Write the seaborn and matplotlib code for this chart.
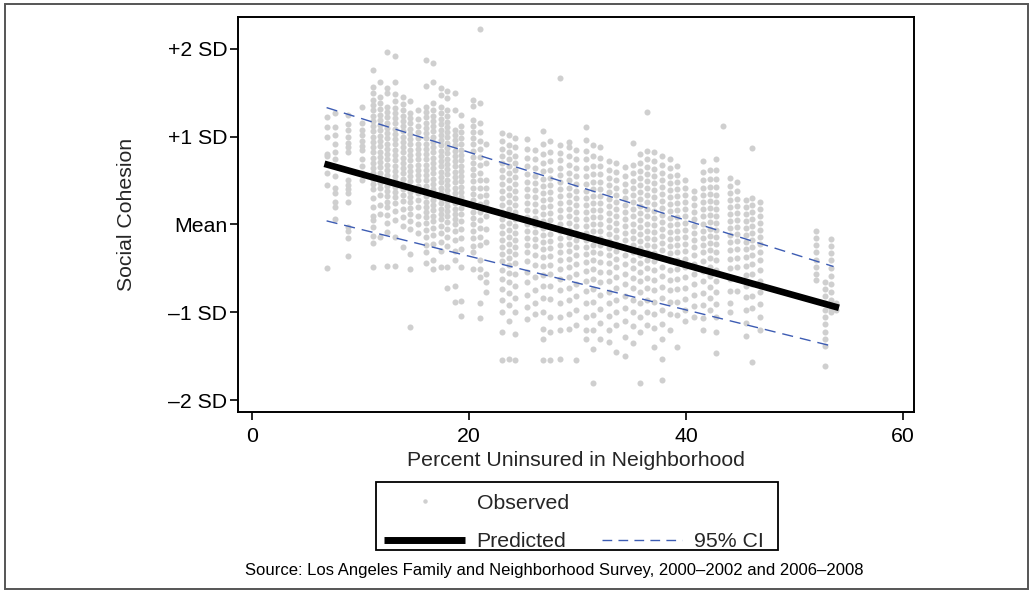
import numpy as np
import pandas as pd
import matplotlib
matplotlib.use("Agg")
import matplotlib.pyplot as plt
from matplotlib.lines import Line2D
from matplotlib.patches import Rectangle
import seaborn as sns

# ---------------- data ----------------
col_x = [6.9, 7.7, 8.9, 10.2, 11.2, 11.8, 12.5, 13.2, 13.9, 14.6, 15.3, 16.1, 16.7,
         17.4, 18.0, 18.7, 19.3, 20.4, 21.0, 21.6, 23.1, 23.7, 24.3, 25.4, 26.1,
         26.8, 27.5, 28.4, 29.2, 29.9, 30.8, 31.4, 32.1, 32.9, 33.6, 34.4, 35.1,
         35.8, 36.4, 37.1, 37.8, 38.5, 39.2, 39.9, 40.7, 41.6, 42.2, 42.8, 43.4,
         44.1, 44.7, 45.5, 46.1, 46.8, 52.0, 52.8, 53.4, 53.8]

col_y = [
    [1.22, 1.11, 0.99, 0.80, 0.78, 0.59, 0.45, -0.50],
    [1.27, 1.11, 1.02, 0.91, 0.82, 0.74, 0.55, 0.42, 0.36, 0.25, 0.20, 0.06],
    [1.25, 1.14, 1.08, 1.00, 0.93, 0.88, 0.82, 0.51, 0.45, 0.40, 0.36, 0.26, -0.03, -0.08, -0.15, -0.36],
    [1.34, 1.16, 1.08, 1.02, 0.95, 0.89, 0.85, 0.75, 0.66, 0.59, 0.51],
    [1.76, 1.57, 1.50, 1.42, 1.36, 1.30, 1.24, 1.18, 1.12, 1.06, 1.00, 0.94, 0.88, 0.82, 0.76, 0.70,
     0.64, 0.58, 0.52, 0.46, 0.40, 0.30, 0.20, 0.10, 0.05, -0.03, -0.13, -0.21, -0.48],
    [1.62, 1.45, 1.38, 1.31, 1.25, 1.19, 1.13, 1.07, 1.01, 0.95, 0.89, 0.83, 0.77, 0.71, 0.65, 0.59,
     0.53, 0.47, 0.41, 0.33, 0.22, 0.12, -0.14],
    [1.96, 1.55, 1.50, 1.34, 1.28, 1.22, 1.16, 1.10, 1.04, 0.98, 0.92, 0.86, 0.80, 0.74, 0.68, 0.62,
     0.56, 0.50, 0.44, 0.38, 0.32, 0.26, 0.20, 0.11, 0.02, -0.09, -0.47],
    [1.92, 1.62, 1.48, 1.40, 1.33, 1.27, 1.21, 1.15, 1.09, 1.03, 0.97, 0.91, 0.85, 0.79, 0.73, 0.67,
     0.61, 0.55, 0.49, 0.43, 0.37, 0.31, 0.24, 0.15, 0.05, -0.14, -0.47],
    [1.45, 1.37, 1.30, 1.24, 1.18, 1.12, 1.06, 1.00, 0.94, 0.88, 0.82, 0.76, 0.70, 0.64, 0.58, 0.52,
     0.46, 0.40, 0.34, 0.27, 0.18, 0.08, -0.02, -0.26],
    [1.40, 1.27, 1.21, 1.15, 1.09, 1.03, 0.97, 0.91, 0.85, 0.79, 0.73, 0.67, 0.61, 0.55, 0.49, 0.43,
     0.37, 0.31, 0.25, 0.19, 0.12, 0.04, -0.05, -0.34, -0.51, -1.17],
    [1.30, 1.20, 1.12, 1.05, 0.98, 0.92, 0.86, 0.80, 0.74, 0.68, 0.62, 0.56, 0.50, 0.44, 0.36, 0.28,
     0.20, 0.10, 0.00, -0.10],
    [1.87, 1.58, 1.34, 1.28, 1.22, 1.16, 1.10, 1.04, 0.98, 0.92, 0.86, 0.80, 0.74, 0.68, 0.62, 0.56,
     0.50, 0.44, 0.38, 0.32, 0.26, 0.20, 0.14, 0.08, 0.02, -0.06, -0.14, -0.24, -0.32, -0.44],
    [1.84, 1.62, 1.38, 1.30, 1.24, 1.18, 1.12, 1.06, 1.00, 0.94, 0.88, 0.82, 0.76, 0.70, 0.64, 0.58,
     0.52, 0.46, 0.40, 0.34, 0.28, 0.22, 0.16, 0.10, 0.04, -0.04, -0.12, -0.22, -0.40, -0.51],
    [1.55, 1.47, 1.34, 1.27, 1.20, 1.14, 1.08, 1.02, 0.96, 0.90, 0.84, 0.78, 0.72, 0.66, 0.60, 0.54,
     0.48, 0.42, 0.36, 0.30, 0.24, 0.18, 0.12, 0.06, -0.02, -0.10, -0.20, -0.30, -0.49],
    [1.52, 1.44, 1.30, 1.24, 1.17, 1.11, 1.05, 0.99, 0.93, 0.87, 0.81, 0.75, 0.69, 0.63, 0.57, 0.51,
     0.45, 0.39, 0.33, 0.27, 0.21, 0.15, 0.09, 0.03, -0.05, -0.14, -0.25, -0.48, -0.72],
    [1.50, 1.30, 1.08, 1.02, 0.96, 0.90, 0.84, 0.78, 0.72, 0.66, 0.60, 0.54, 0.48, 0.42, 0.36, 0.30,
     0.24, 0.18, 0.12, 0.06, 0.00, -0.08, -0.18, -0.30, -0.40, -0.70, -0.88],
    [1.25, 1.12, 1.05, 0.98, 0.91, 0.85, 0.79, 0.73, 0.67, 0.61, 0.55, 0.49, 0.43, 0.37, 0.31, 0.25,
     0.19, 0.12, 0.04, -0.05, -0.15, -0.28, -0.48, -0.87, -1.04],
    [1.42, 1.35, 1.19, 1.12, 1.05, 0.98, 0.91, 0.84, 0.77, 0.70, 0.63, 0.56, 0.49, 0.42, 0.35, 0.28,
     0.21, 0.14, 0.07, 0.00, -0.08, -0.16, -0.25, -0.32, -0.51],
    [2.23, 1.38, 1.15, 1.05, 0.95, 0.86, 0.77, 0.68, 0.59, 0.50, 0.41, 0.32, 0.23, 0.14, 0.05, -0.04,
     -0.14, -0.24, -0.40, -0.51, -0.60, -0.89, -1.07],
    [0.92, 0.70, 0.51, 0.42, 0.33, 0.26, 0.20, 0.10, -0.05, -0.20, -0.57, -0.66, -0.77],
    [1.04, 0.95, 0.86, 0.78, 0.70, 0.62, 0.54, 0.46, 0.38, 0.30, 0.22, 0.14, 0.06, -0.02, -0.10, -0.18,
     -0.26, -0.34, -0.42, -0.52, -0.62, -0.74, -0.86, -1.00, -1.23, -1.55],
    [1.02, 0.90, 0.82, 0.74, 0.66, 0.58, 0.50, 0.42, 0.34, 0.26, 0.18, 0.10, 0.02, -0.06, -0.14, -0.22,
     -0.30, -0.38, -0.46, -0.55, -0.66, -0.78, -0.92, -1.10, -1.53],
    [0.98, 0.88, 0.78, 0.70, 0.62, 0.54, 0.46, 0.38, 0.30, 0.22, 0.14, 0.06, -0.02, -0.10, -0.18, -0.26,
     -0.34, -0.44, -0.56, -0.70, -0.84, -1.00, -1.25, -1.55],
    [0.97, 0.86, 0.76, 0.66, 0.57, 0.48, 0.40, 0.32, 0.24, 0.16, 0.08, 0.00, -0.08, -0.16, -0.24, -0.32,
     -0.42, -0.54, -0.66, -0.80, -0.94, -1.08],
    [0.85, 0.74, 0.64, 0.55, 0.47, 0.39, 0.31, 0.23, 0.15, 0.07, -0.01, -0.09, -0.17, -0.25, -0.35,
     -0.46, -0.60, -0.75, -0.90, -1.02],
    [1.06, 0.92, 0.80, 0.70, 0.61, 0.52, 0.44, 0.36, 0.28, 0.20, 0.12, 0.04, -0.04, -0.12, -0.20, -0.28,
     -0.37, -0.47, -0.58, -0.70, -0.84, -1.00, -1.19, -1.31, -1.54],
    [0.95, 0.82, 0.72, 0.62, 0.53, 0.45, 0.37, 0.29, 0.21, 0.13, 0.05, -0.03, -0.11, -0.19, -0.27,
     -0.36, -0.46, -0.57, -0.70, -0.85, -1.05, -1.22, -1.54],
    [1.67, 0.90, 0.81, 0.73, 0.64, 0.56, 0.48, 0.40, 0.32, 0.24, 0.16, 0.08, 0.00, -0.08, -0.16, -0.24,
     -0.32, -0.41, -0.51, -0.62, -0.75, -0.90, -1.05, -1.20, -1.53],
    [0.94, 0.88, 0.78, 0.68, 0.59, 0.50, 0.42, 0.34, 0.26, 0.18, 0.10, 0.02, -0.06, -0.14, -0.22, -0.30,
     -0.39, -0.49, -0.60, -0.72, -0.86, -1.02, -1.19],
    [0.85, 0.74, 0.64, 0.55, 0.46, 0.38, 0.30, 0.22, 0.14, 0.06, -0.02, -0.10, -0.18, -0.26, -0.35,
     -0.45, -0.56, -0.68, -0.82, -0.98, -1.15, -1.54],
    [1.11, 0.96, 0.84, 0.74, 0.64, 0.55, 0.46, 0.38, 0.30, 0.22, 0.14, 0.06, -0.02, -0.10, -0.18, -0.26,
     -0.34, -0.43, -0.53, -0.64, -0.76, -0.90, -1.06, -1.20, -1.31],
    [0.90, 0.78, 0.67, 0.57, 0.48, 0.40, 0.32, 0.24, 0.16, 0.08, 0.00, -0.08, -0.16, -0.24, -0.32,
     -0.41, -0.51, -0.62, -0.74, -0.88, -1.03, -1.20, -1.42, -1.81],
    [0.88, 0.76, 0.66, 0.57, 0.48, 0.40, 0.32, 0.24, 0.16, 0.08, 0.00, -0.08, -0.16, -0.24, -0.33,
     -0.43, -0.54, -0.66, -0.80, -0.96, -1.12, -1.30],
    [0.72, 0.62, 0.53, 0.45, 0.37, 0.29, 0.21, 0.13, 0.05, -0.03, -0.11, -0.19, -0.27, -0.35, -0.44,
     -0.54, -0.65, -0.77, -0.90, -1.04, -1.20, -1.34],
    [0.70, 0.60, 0.51, 0.42, 0.34, 0.26, 0.18, 0.10, 0.02, -0.06, -0.14, -0.22, -0.30, -0.39, -0.49,
     -0.60, -0.72, -0.86, -1.00, -1.15, -1.45],
    [0.65, 0.55, 0.46, 0.38, 0.30, 0.22, 0.14, 0.06, -0.02, -0.10, -0.18, -0.26, -0.35, -0.45, -0.56,
     -0.68, -0.81, -0.95, -1.10, -1.28, -1.50],
    [0.93, 0.68, 0.58, 0.49, 0.41, 0.33, 0.25, 0.17, 0.09, 0.01, -0.07, -0.15, -0.23, -0.31, -0.40,
     -0.50, -0.61, -0.73, -0.86, -1.00, -1.16, -1.35],
    [0.80, 0.70, 0.61, 0.53, 0.45, 0.37, 0.29, 0.21, 0.13, 0.05, -0.03, -0.11, -0.19, -0.27, -0.35,
     -0.44, -0.54, -0.65, -0.77, -0.90, -1.05, -1.22, -1.81],
    [1.28, 0.84, 0.74, 0.65, 0.57, 0.49, 0.41, 0.33, 0.25, 0.17, 0.09, 0.01, -0.07, -0.15, -0.23, -0.31,
     -0.40, -0.50, -0.61, -0.73, -0.86, -1.00, -1.15],
    [0.82, 0.72, 0.63, 0.55, 0.47, 0.39, 0.31, 0.23, 0.15, 0.07, -0.01, -0.09, -0.17, -0.25, -0.33,
     -0.42, -0.52, -0.63, -0.75, -0.88, -1.02, -1.18, -1.40],
    [0.78, 0.68, 0.59, 0.51, 0.43, 0.35, 0.27, 0.19, 0.11, 0.03, -0.05, -0.13, -0.21, -0.29, -0.38,
     -0.48, -0.59, -0.71, -0.84, -0.98, -1.13, -1.30, -1.53, -1.77],
    [0.74, 0.64, 0.55, 0.47, 0.39, 0.31, 0.23, 0.15, 0.07, -0.01, -0.09, -0.17, -0.25, -0.33, -0.42,
     -0.52, -0.63, -0.75, -0.88, -1.02, -1.20],
    [0.66, 0.56, 0.48, 0.40, 0.32, 0.24, 0.16, 0.08, 0.00, -0.08, -0.16, -0.24, -0.32, -0.41, -0.51,
     -0.62, -0.74, -0.88, -1.03, -1.40],
    [0.50, 0.42, 0.34, 0.26, 0.18, 0.10, 0.02, -0.06, -0.14, -0.22, -0.30, -0.39, -0.49, -0.60, -0.72,
     -0.85, -0.98, -1.10],
    [0.38, 0.30, 0.22, 0.14, 0.06, -0.02, -0.10, -0.18, -0.26, -0.35, -0.45, -0.56, -0.68, -0.80,
     -0.93, -1.05],
    [0.72, 0.60, 0.50, 0.41, 0.33, 0.25, 0.17, 0.09, 0.01, -0.07, -0.15, -0.23, -0.32, -0.42, -0.53,
     -0.65, -0.78, -0.92, -1.07, -1.20],
    [0.62, 0.52, 0.43, 0.35, 0.27, 0.19, 0.11, 0.03, -0.05, -0.13, -0.21, -0.29, -0.38, -0.48, -0.59,
     -0.71, -0.84, -0.98],
    [0.74, 0.62, 0.52, 0.43, 0.34, 0.26, 0.18, 0.10, 0.02, -0.06, -0.14, -0.22, -0.31, -0.41, -0.52,
     -0.64, -0.77, -0.91, -1.06, -1.22, -1.46],
    [1.12],
    [0.53, 0.44, 0.36, 0.28, 0.20, 0.12, 0.04, -0.04, -0.12, -0.20, -0.29, -0.39, -0.50, -0.62, -0.76,
     -0.90, -1.00],
    [0.48, 0.38, 0.29, 0.21, 0.13, 0.05, -0.03, -0.11, -0.19, -0.28, -0.38, -0.49, -0.62, -0.76],
    [0.28, 0.20, 0.12, 0.04, -0.04, -0.12, -0.20, -0.28, -0.37, -0.47, -0.58, -0.70, -0.83, -0.97,
     -1.12, -1.27],
    [0.87, 0.30, 0.22, 0.14, 0.06, -0.02, -0.10, -0.18, -0.26, -0.35, -0.45, -0.56, -0.68, -0.81,
     -0.95, -1.57],
    [0.26, 0.18, 0.10, 0.02, -0.06, -0.14, -0.22, -0.31, -0.41, -0.52, -0.64, -0.77, -0.91, -1.05, -1.20],
    [-0.08, -0.16, -0.24, -0.32, -0.40, -0.48, -0.56, -0.63],
    [-0.66, -0.74, -0.82, -0.90, -0.98, -1.06, -1.14, -1.22, -1.30, -1.38, -1.61],
    [-0.17, -0.25, -0.33, -0.41, -0.50, -0.59, -0.68, -0.77, -0.86, -0.95, -1.00],
    [-0.98, -0.90],
]

pred_x = [6.7, 54.1]
pred_y = [0.69, -0.95]
ci_x = [6.9, 53.6]
ci_upper = [1.33, -0.48]
ci_lower = [0.04, -1.39]

y_ticks = [2, 1, 0, -1, -2]
y_ticklabels = ["+2 SD", "+1 SD", "Mean", "\u20131 SD", "\u20132 SD"]
x_ticks = [0, 20, 40, 60]

# ---------------- styling ----------------
sns.set_style("white")
plt.rcParams["font.family"] = ["Liberation Sans", "DejaVu Sans"]

W, H = 1029, 590
fig = plt.figure(figsize=(W / 100, H / 100), dpi=100)
fig.patch.set_facecolor("white")

ax_l, ax_r, ax_t, ax_b = 238.3, 914.0, 17.0, 412.3
ax = fig.add_axes([ax_l / W, 1 - ax_b / H, (ax_r - ax_l) / W, (ax_b - ax_t) / H])

obs_x, obs_y = [], []
for cx, ys in zip(col_x, col_y):
    obs_x.extend([cx] * len(ys))
    obs_y.extend(ys)
df_obs = pd.DataFrame({"x": obs_x, "y": obs_y})

dot_color = "#cfcfcf"
ci_color = "#3d5cb3"
fs = 15.3

sns.scatterplot(data=df_obs, x="x", y="y", s=19, color=dot_color, linewidth=0,
                ax=ax, legend=False, zorder=1)

df_pred = pd.DataFrame({"x": pred_x, "y": pred_y})
sns.lineplot(data=df_pred, x="x", y="y", color="black", linewidth=4.8, ax=ax,
             solid_capstyle="butt", zorder=3)
df_up = pd.DataFrame({"x": ci_x, "y": ci_upper})
df_lo = pd.DataFrame({"x": ci_x, "y": ci_lower})
for d in (df_up, df_lo):
    sns.lineplot(data=d, x="x", y="y", color=ci_color, linewidth=1.0, ax=ax,
                 dashes=False, zorder=2)
for ln in ax.get_lines()[1:]:
    ln.set_dashes((8, 5))

ax.set_xlim(-1.234, 61.01)
ax.set_ylim(-2.14, 2.362)
ax.set_xticks(x_ticks)
ax.set_yticks(y_ticks)
ax.set_yticklabels(y_ticklabels)
ax.tick_params(axis="both", direction="out", length=5.5, width=1.2, color="black",
               labelsize=fs, labelcolor="black")
ax.tick_params(axis="y", pad=2.5)
ax.tick_params(axis="x", pad=5)
ax.tick_params(left=True, bottom=True)
for sp in ax.spines.values():
    sp.set_visible(True)
    sp.set_color("black")
    sp.set_linewidth(1.4)

ax.set_xlabel("Percent Uninsured in Neighborhood", fontsize=fs, va="center")
ax.set_ylabel("Social Cohesion", fontsize=fs, va="center")
ax.xaxis.set_label_coords(0.5, (ax_b - 460) / (ax_b - ax_t))
ax.yaxis.set_label_coords((127 - ax_l) / (ax_r - ax_l), 0.5)

# legend (content without frame; the box is drawn separately)
h_obs = Line2D([], [], linestyle="none", marker="o", markersize=3.2,
               markerfacecolor=dot_color, markeredgewidth=0)
h_pred = Line2D([], [], color="black", linewidth=5.0, solid_capstyle="butt")
h_empty = Line2D([], [], linestyle="none")
h_ci = Line2D([], [], color=ci_color, linewidth=1.0, dashes=(7, 4.5))
leg = fig.legend([h_obs, h_pred, h_empty, h_ci], ["Observed", "Predicted", "", "95% CI"],
                 ncol=2, loc="center", bbox_to_anchor=(574 / W, 1 - 522.5 / H),
                 frameon=False, fontsize=fs, handlelength=3.8,
                 handletextpad=0.55, columnspacing=1.55, labelspacing=0.94,
                 borderpad=0.27, borderaxespad=0)
fig.patches.append(Rectangle((376 / W, 1 - 550 / H), (778 - 376) / W, (550 - 482) / H,
                             transform=fig.transFigure, fill=False, edgecolor="black",
                             linewidth=1.3))

fig.text(554.5 / W, 1 - 571 / H,
         "Source: Los Angeles Family and Neighborhood Survey, 2000\u20132002 and 2006\u20132008",
         fontsize=12, ha="center", va="center", color="black")

# outer frame
fig.patches.append(Rectangle((4.5 / W, 1 / H), 1023.5 / W, 585 / H, transform=fig.transFigure,
                             fill=False, edgecolor="#555555", linewidth=1.4))

fig.savefig("out.png", dpi=100, facecolor="white")
